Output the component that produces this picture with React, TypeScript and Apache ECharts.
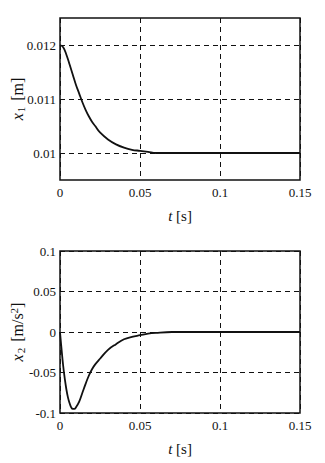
import React, { useEffect, useRef } from "react";
import * as echarts from "echarts";

const timeX1 = [0, 0.002, 0.004, 0.006, 0.008, 0.01, 0.012, 0.014, 0.016, 0.018, 0.02, 0.022, 0.025, 0.03, 0.035, 0.04, 0.045, 0.05, 0.055, 0.06, 0.15];
const valuesX1 = [0.012, 0.01196, 0.01182, 0.01164, 0.01145, 0.01126, 0.0111, 0.01094, 0.0108, 0.01068, 0.01058, 0.0105, 0.01038, 0.01025, 0.01016, 0.0101, 0.01006, 0.01004, 0.01002, 0.01, 0.01];

const timeX2 = [0, 0.001, 0.002, 0.003, 0.004, 0.005, 0.006, 0.007, 0.008, 0.009, 0.01, 0.012, 0.014, 0.016, 0.018, 0.02, 0.022, 0.025, 0.03, 0.035, 0.04, 0.045, 0.05, 0.055, 0.06, 0.07, 0.15];
const valuesX2 = [0, -0.022, -0.042, -0.058, -0.071, -0.081, -0.088, -0.093, -0.095, -0.095, -0.093, -0.086, -0.075, -0.064, -0.054, -0.046, -0.04, -0.033, -0.022, -0.015, -0.009, -0.006, -0.004, -0.002, -0.001, 0, 0];

const xTicks = [0, 0.05, 0.1, 0.15];
const y1Ticks = [0.01, 0.011, 0.012];
const y2Ticks = [-0.1, -0.05, 0, 0.05, 0.1];

const FONT = "'Liberation Serif', 'Times New Roman', serif";
const INK = "#111";

export default function App() {
  const ref = useRef<HTMLDivElement>(null);
  useEffect(() => {
    if (!ref.current) return;
    const chart = echarts.init(ref.current, undefined, { renderer: "svg" });
    const dashed = { show: true, lineStyle: { color: INK, type: [5, 4] as any, width: 1 } };
    const label = { color: INK, fontFamily: FONT, fontSize: 13 };
    const richY = {
      it: { fontStyle: "italic", fontFamily: FONT, fontSize: 16, color: INK },
      n: { fontFamily: FONT, fontSize: 16, color: INK },
      sub: { fontFamily: FONT, fontSize: 11, color: INK, verticalAlign: "bottom", padding: [7, 2, 0, 1] },
      sup: { fontFamily: FONT, fontSize: 11, color: INK, verticalAlign: "top", padding: [0, 0, 7, 0] },
    };
    const richX = {
      it: { fontStyle: "italic", fontFamily: FONT, fontSize: 15, color: INK },
      n: { fontFamily: FONT, fontSize: 15, color: INK },
    };
    const xAxisBase = (gridIndex: number) => ({
      type: "value",
      gridIndex,
      min: 0,
      max: 0.15,
      axisLine: { show: false },
      axisTick: { show: false, customValues: xTicks },
      splitLine: dashed,
      axisLabel: { ...label, margin: 6, customValues: xTicks, formatter: (v: number) => String(+v.toFixed(3)) },
      name: "{it|t}{n| [s]}",
      nameLocation: "middle",
      nameGap: 28,
      nameMoveOverlap: false,
      nameTextStyle: { rich: richX },
    });
    const gridBase = { left: 60, width: 240, height: 162, show: true, borderColor: INK, borderWidth: 1.5, backgroundColor: "transparent", containLabel: false, outerBoundsMode: "none" };
    chart.setOption({
      animation: false,
      grid: [
        { ...gridBase, top: 18 },
        { ...gridBase, top: 251 },
      ],
      xAxis: [xAxisBase(0), xAxisBase(1)],
      yAxis: [
        {
          type: "value",
          gridIndex: 0,
          min: 0.0095,
          max: 0.0125,
          axisLine: { show: false },
          axisTick: { show: false, customValues: y1Ticks },
          splitLine: dashed,
          axisLabel: { ...label, margin: 4, customValues: y1Ticks, formatter: (v: number) => String(+v.toFixed(4)) },
          name: "{it|x}{sub|1}{n| [m]}",
          nameLocation: "middle",
          nameRotate: 90,
          nameGap: 34,
          nameMoveOverlap: false,
          nameTextStyle: { rich: richY },
        },
        {
          type: "value",
          gridIndex: 1,
          min: -0.1,
          max: 0.1,
          axisLine: { show: false },
          axisTick: { show: false, customValues: y2Ticks },
          splitLine: dashed,
          axisLabel: { ...label, margin: 4, customValues: y2Ticks, formatter: (v: number) => String(+v.toFixed(3)) },
          name: "{it|x}{sub|2}{n| [m/s}{sup|2}{n|]}",
          nameLocation: "middle",
          nameRotate: 90,
          nameGap: 34,
          nameMoveOverlap: false,
          nameTextStyle: { rich: richY },
        },
      ],
      series: [
        {
          type: "line",
          xAxisIndex: 0,
          yAxisIndex: 0,
          data: timeX1.map((t, i) => [t, valuesX1[i]]),
          showSymbol: false,
          smooth: 0.4,
          lineStyle: { color: INK, width: 1.8 },
          z: 5,
        },
        {
          type: "line",
          xAxisIndex: 1,
          yAxisIndex: 1,
          data: timeX2.map((t, i) => [t, valuesX2[i]]),
          showSymbol: false,
          smooth: 0.4,
          lineStyle: { color: INK, width: 1.8 },
          z: 5,
        },
      ],
    });
    return () => chart.dispose();
  }, []);
  return <div ref={ref} style={{ position: "absolute", left: 0, top: 0, width: 325, height: 463, background: "#fff" }} />;
}
